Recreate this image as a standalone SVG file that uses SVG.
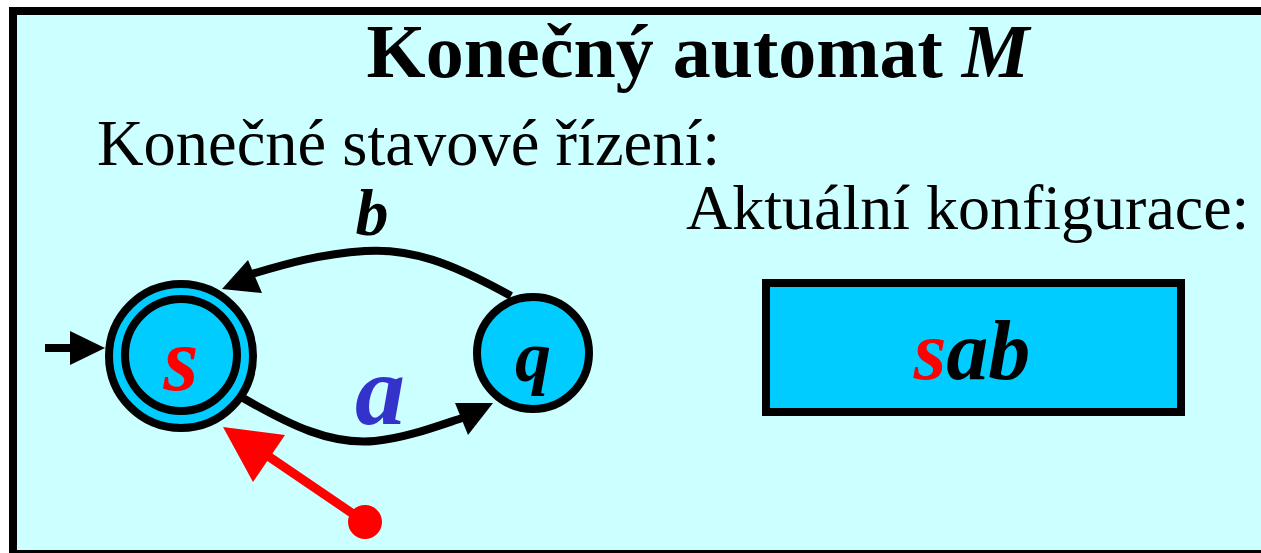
<svg xmlns="http://www.w3.org/2000/svg" width="1261" height="553" viewBox="0 0 1261 553">
<style>
.serif{font-family:"Liberation Serif","Times New Roman",serif}
.bi{font-weight:bold;font-style:italic}
.st{fill:#00CCFF;stroke:#000;stroke-width:8}
.edge{fill:none;stroke:#000;stroke-width:8}
</style>
<rect x="13" y="11" width="1260" height="543" fill="#CCFFFF" stroke="#000" stroke-width="8"/>
<text class="serif" x="698" y="77" font-size="76" font-weight="bold" text-anchor="middle">Konečný automat <tspan font-style="italic">M</tspan></text>
<text class="serif" x="97" y="165" font-size="64.5">Konečné stavové řízení:</text>
<text class="serif" x="686" y="229" font-size="64">Aktuální konfigurace:</text>
<g id="connectors">
<line x1="45" y1="348" x2="72" y2="348" stroke="#000" stroke-width="8"/>
<path d="M70,331 L105,348 L70,365 Z" fill="#000"/>
<path class="edge" d="M511,296 C450,262 410,248 365,251 C320,254 285,264 252,274"/>
<path d="M222,289 L248,260 L262,293 Z" fill="#000"/>
<path class="edge" d="M243,398 C290,425 330,445 375,441 C405,438 432,428 462,418"/>
<path d="M455,403 L493,403 L468,435 Z" fill="#000"/>
<text class="serif bi" x="372" y="235" font-size="66" text-anchor="middle">b</text>
<text class="serif bi" x="380" y="424" font-size="100" fill="#3333CC" text-anchor="middle">a</text>
</g>
<g id="node-s">
<circle class="st" cx="181" cy="356" r="72"/>
<circle class="st" cx="181" cy="355" r="56"/>
<text class="serif bi" x="181" y="390" font-size="90" fill="#FF0000" text-anchor="middle">s</text>
</g>
<g id="node-q">
<circle class="st" cx="533" cy="353" r="56"/>
<text class="serif bi" x="533" y="381" font-size="72" text-anchor="middle">q</text>
</g>
<g id="config">
<rect x="766" y="283" width="415" height="129" fill="#00CCFF" stroke="#000" stroke-width="8"/>
<text class="serif bi" x="972" y="379" font-size="84" text-anchor="middle"><tspan fill="#FF0000">s</tspan>ab</text>
</g>
<g id="head">
<line x1="365" y1="522" x2="268" y2="456" stroke="#FF0000" stroke-width="9"/>
<path d="M223,427 L285,435 L253,482 Z" fill="#FF0000"/>
<circle cx="365" cy="522" r="17" fill="#FF0000"/>
</g>
</svg>
